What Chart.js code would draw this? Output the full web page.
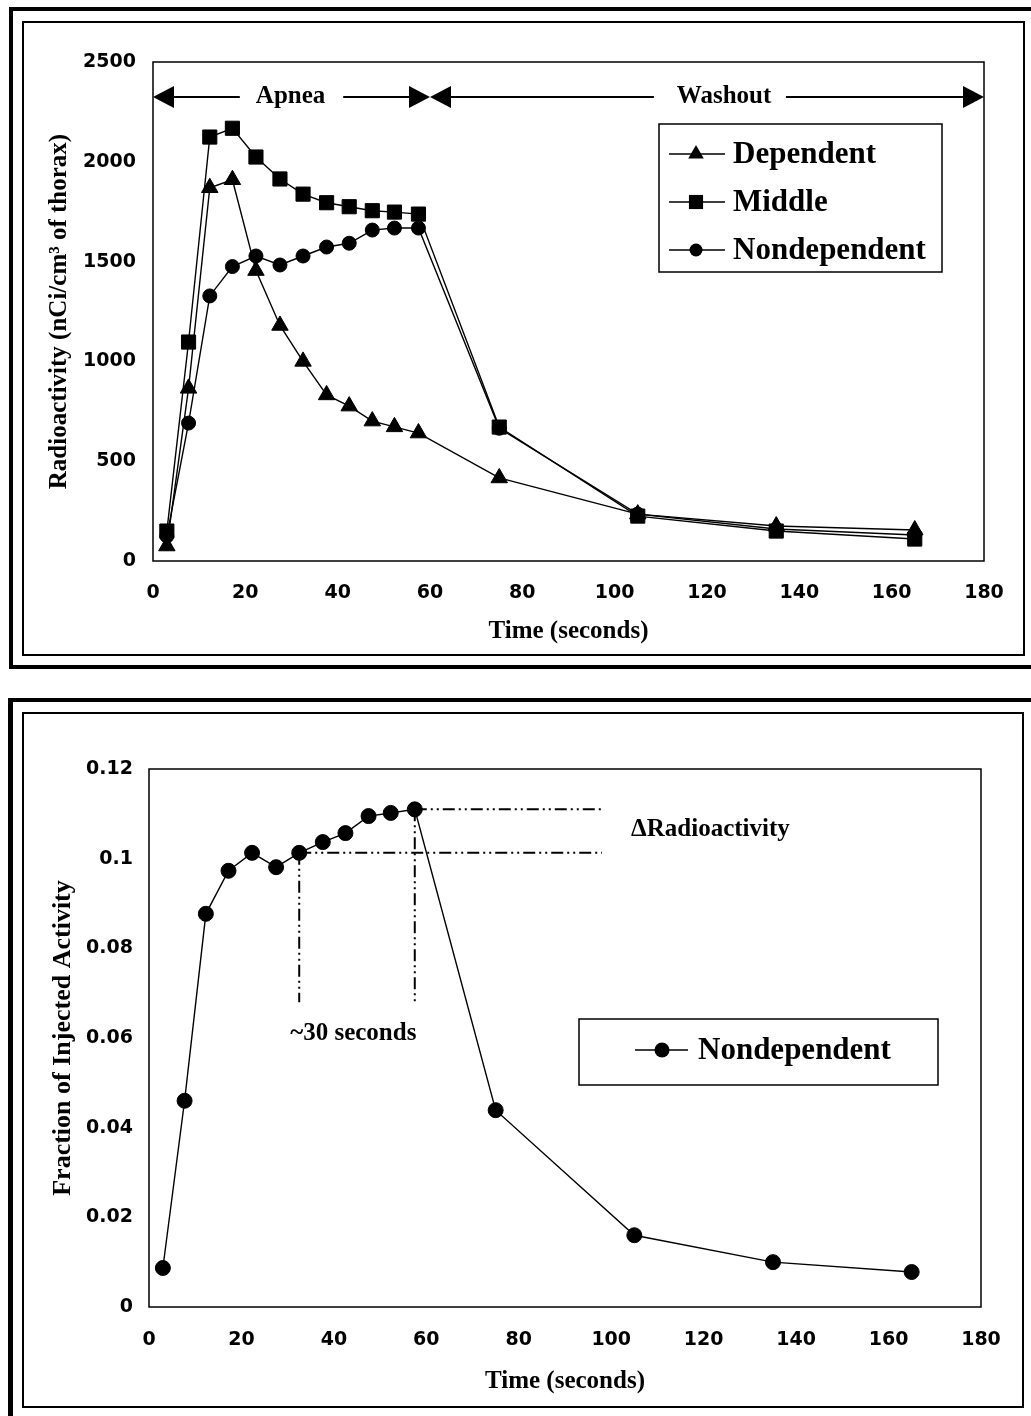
<!DOCTYPE html>
<html><head><meta charset="utf-8">
<script src="https://cdn.jsdelivr.net/npm/chart.js@4.4.1/dist/chart.umd.min.js"></script>
<style>
html,body{margin:0;padding:0;background:#fff;}
body{width:1031px;height:1416px;position:relative;overflow:hidden;}
.f{position:absolute;background:#000;}
.b{position:absolute;border:2px solid #000;box-sizing:border-box;}
canvas{position:absolute;left:0;}
</style></head><body>
<!-- top panel frame -->
<div class="f" style="left:9px;top:7px;width:1022px;height:4px"></div>
<div class="f" style="left:9px;top:7px;width:4px;height:662px"></div>
<div class="f" style="left:9px;top:665px;width:1022px;height:4px"></div>
<div class="b" style="left:22px;top:21px;width:1003px;height:635px"></div>
<!-- bottom panel frame -->
<div class="f" style="left:8px;top:698px;width:1023px;height:4px"></div>
<div class="f" style="left:8px;top:698px;width:5px;height:718px"></div>
<div class="b" style="left:22px;top:712px;width:1002px;height:696px"></div>

<canvas id="c1" width="1031" height="680" style="top:0"></canvas>
<canvas id="c2" width="1031" height="736" style="top:680px"></canvas>
<script>
// ---------- data ----------
const times = [3, 7.7, 12.3, 17.2, 22.3, 27.5, 32.5, 37.6, 42.5, 47.5, 52.3, 57.5, 75, 105, 135, 165];
const dependent = [75, 865, 1870, 1910, 1455, 1180, 1000, 832, 776, 701, 672, 641, 416, 235, 175, 155];
const middle = [150, 1097, 2124, 2168, 2024, 1914, 1838, 1795, 1775, 1755, 1748, 1738, 671, 225, 150, 110];
const nondependent = [125, 691, 1328, 1475, 1528, 1483, 1528, 1573, 1592, 1658, 1668, 1668, 665, 235, 160, 130];
const fractionNondependent = [0.0087, 0.046, 0.0877, 0.0973, 0.1013, 0.0981, 0.1013, 0.1037, 0.1057, 0.1095, 0.1102, 0.111, 0.0439, 0.016, 0.010, 0.0078];

const seriesLabels = ['Dependent', 'Middle', 'Nondependent'];
const topTitleX = 'Time (seconds)';
const topTitleY = 'Radioactivity (nCi/cm\u00B3 of thorax)';
const bottomTitleX = 'Time (seconds)';
const bottomTitleY = 'Fraction of Injected Activity';
const xRange = [0, 180, 20];
const topYRange = [0, 2500, 500];
const bottomYRange = [0, 0.12, 0.02];

// ---------- styling ----------
const SANS = '"DejaVu Sans", sans-serif';
const SERIF = '"Liberation Serif", "Times New Roman", serif';
Chart.defaults.color = '#000';

function pts(xs, ys) { return xs.map((t, i) => ({x: t, y: ys[i]})); }

function drawMarker(ctx, style, x, y, r) {
  ctx.beginPath();
  if (style === 'triangle') {
    ctx.moveTo(x, y - r);
    ctx.lineTo(x + r * 0.866, y + r / 2);
    ctx.lineTo(x - r * 0.866, y + r / 2);
    ctx.closePath();
  } else if (style === 'rect') {
    const s = r * Math.SQRT1_2;
    ctx.rect(x - s, y - s, 2 * s, 2 * s);
  } else {
    ctx.arc(x, y, r, 0, Math.PI * 2);
  }
  ctx.fill();
}

const plotBox = {
  id: 'plotBox',
  beforeDatasetsDraw(chart) {
    const {ctx, chartArea: a} = chart;
    ctx.save();
    ctx.strokeStyle = '#000';
    ctx.lineWidth = 1.5;
    ctx.strokeRect(a.left, a.top, a.right - a.left, a.bottom - a.top);
    ctx.restore();
  }
};

function boxLegend(cfg) {
  return {
    id: 'boxLegend',
    afterDraw(chart) {
      const ctx = chart.ctx;
      ctx.save();
      ctx.strokeStyle = '#000';
      ctx.lineWidth = 1.5;
      ctx.strokeRect(cfg.box[0], cfg.box[1], cfg.box[2], cfg.box[3]);
      chart.data.datasets.forEach((ds, i) => {
        const y = cfg.rows[i];
        ctx.beginPath();
        ctx.lineWidth = 1.5;
        ctx.moveTo(cfg.line[0], y);
        ctx.lineTo(cfg.line[1], y);
        ctx.stroke();
        ctx.fillStyle = '#000';
        drawMarker(ctx, ds.pointStyle, cfg.markerX, y, cfg.markerR[ds.pointStyle]);
        ctx.font = cfg.font;
        ctx.textAlign = 'left';
        ctx.textBaseline = 'middle';
        ctx.fillText(ds.label, cfg.textX, y + 1);
      });
      ctx.restore();
    }
  };
}

function arrowHead(ctx, tipX, y, dir) { // dir: -1 points left, +1 points right
  ctx.beginPath();
  ctx.moveTo(tipX, y);
  ctx.lineTo(tipX - dir * 21, y - 11);
  ctx.lineTo(tipX - dir * 21, y + 11);
  ctx.closePath();
  ctx.fill();
}

// phase arrows: [start, lineEnd, textCenter, lineStart, end] in seconds
const phaseArrowY = 2325;
const phases = [
  {text: 'Apnea', seg: [0, 18.8, 29.8, 41.2, 60]},
  {text: 'Washout', seg: [60, 108.5, 123.7, 137.1, 180]}
];

const topNotes = {
  id: 'topNotes',
  afterDatasetsDraw(chart) {
    const {ctx, scales: {x, y}} = chart;
    const py = y.getPixelForValue(phaseArrowY);
    ctx.save();
    ctx.strokeStyle = '#000';
    ctx.fillStyle = '#000';
    ctx.lineWidth = 2;
    phases.forEach(p => {
      const s = p.seg.map(v => x.getPixelForValue(v));
      ctx.beginPath();
      ctx.moveTo(s[0] + 10, py); ctx.lineTo(s[1], py);
      ctx.moveTo(s[3], py); ctx.lineTo(s[4] - 10, py);
      ctx.stroke();
      arrowHead(ctx, s[0], py, -1);
      arrowHead(ctx, s[4], py, 1);
      ctx.font = 'bold 25px ' + SERIF;
      ctx.textAlign = 'center';
      ctx.textBaseline = 'middle';
      ctx.fillText(p.text, s[2], py);
    });
    ctx.restore();
  }
};

// bottom annotation geometry (seconds / fraction)
const deltaLines = [
  {from: [57.5, 0.111], toX: 98},
  {from: [32.5, 0.1013], toX: 98}
];
const dropLineEnd = 0.068;
const noteThirty = {text: '~30 seconds', x: 44.2, y: 0.0609};
const noteDelta = {text: '\u0394Radioactivity', x: 104.3, y: 0.1066};

const bottomNotes = {
  id: 'bottomNotes',
  afterDatasetsDraw(chart) {
    const {ctx, scales: {x, y}} = chart;
    ctx.save();
    ctx.strokeStyle = '#000';
    ctx.fillStyle = '#000';
    ctx.lineWidth = 2;
    ctx.setLineDash([12, 4, 2, 4, 2, 4]);
    deltaLines.forEach(l => {
      const px = x.getPixelForValue(l.from[0]);
      const py = y.getPixelForValue(l.from[1]);
      ctx.beginPath();
      ctx.moveTo(px, py); ctx.lineTo(x.getPixelForValue(l.toX), py);
      ctx.stroke();
      ctx.beginPath();
      ctx.moveTo(px, py); ctx.lineTo(px, y.getPixelForValue(dropLineEnd));
      ctx.stroke();
    });
    ctx.setLineDash([]);
    ctx.textBaseline = 'middle';
    ctx.font = 'bold 25px ' + SERIF;
    ctx.textAlign = 'center';
    ctx.fillText(noteThirty.text, x.getPixelForValue(noteThirty.x), y.getPixelForValue(noteThirty.y));
    ctx.font = 'bold 25px ' + SERIF;
    ctx.textAlign = 'left';
    ctx.fillText(noteDelta.text, x.getPixelForValue(noteDelta.x), y.getPixelForValue(noteDelta.y));
    ctx.restore();
  }
};

function lineDs(label, xs, ys, style, r) {
  return {
    label, data: pts(xs, ys), pointStyle: style, pointRadius: r, pointHoverRadius: r,
    borderColor: '#000', borderWidth: 1.4, backgroundColor: '#000',
    pointBackgroundColor: '#000', pointBorderColor: '#000', pointBorderWidth: 1,
    tension: 0, fill: false
  };
}

function scaleX(range, pad, titleText, titlePadBottom, height) {
  return {
    type: 'linear', min: range[0], max: range[1],
    ticks: {stepSize: range[2], padding: pad, autoSkip: false, maxRotation: 0,
      font: {family: SANS, weight: 'bold', size: 19, lineHeight: 1.2}, color: '#000',
      callback: v => String(v)},
    grid: {display: false, drawTicks: false}, border: {display: false},
    title: {display: true, text: titleText, color: '#000',
      font: {family: SERIF, weight: 'bold', size: 25, lineHeight: 1.2},
      padding: {top: 0, bottom: titlePadBottom}},
    afterFit: s => { s.height = height; }
  };
}
function scaleY(range, pad, titleText, titleSize, titlePadTop, width, fmt) {
  return {
    type: 'linear', min: range[0], max: range[1],
    ticks: {stepSize: range[2], padding: pad, autoSkip: false,
      font: {family: SANS, weight: 'bold', size: 19, lineHeight: 1.2}, color: '#000',
      callback: fmt},
    grid: {display: false, drawTicks: false}, border: {display: false},
    title: {display: true, text: titleText, color: '#000',
      font: {family: SERIF, weight: 'bold', size: titleSize, lineHeight: 1.2},
      padding: {top: titlePadTop, bottom: 0}},
    afterFit: s => { s.width = width; }
  };
}

const common = {
  responsive: false, animation: false, devicePixelRatio: 1,
  events: [],
};

new Chart(document.getElementById('c1'), {
  type: 'line',
  data: {datasets: [
    lineDs(seriesLabels[0], times, dependent, 'triangle', 9.5),
    lineDs(seriesLabels[1], times, middle, 'rect', 10),
    lineDs(seriesLabels[2], times, nondependent, 'circle', 7)
  ]},
  options: Object.assign({}, common, {
    layout: {padding: {top: 62, right: 47, bottom: 0, left: 0}},
    plugins: {legend: {display: false}, tooltip: {enabled: false}},
    scales: {
      x: scaleX(xRange, 21, topTitleX, 33, 119),
      y: scaleY(topYRange, 17, topTitleY, 25, 45, 153, v => String(v))
    }
  }),
  plugins: [plotBox, topNotes, boxLegend({
    box: [659, 124, 283, 148], line: [669, 725], markerX: 696, textX: 733,
    rows: [154, 202, 250], font: 'bold 31px ' + SERIF,
    markerR: {triangle: 9, rect: 10, circle: 6.5}
  })]
});

new Chart(document.getElementById('c2'), {
  type: 'line',
  data: {datasets: [
    lineDs(seriesLabels[2], times, fractionNondependent, 'circle', 7.5)
  ]},
  options: Object.assign({}, common, {
    layout: {padding: {top: 89, right: 50, bottom: 0, left: 0}},
    plugins: {legend: {display: false}, tooltip: {enabled: false}},
    scales: {
      x: scaleX(xRange, 22, bottomTitleX, 19, 109),
      y: scaleY(bottomYRange, 16, bottomTitleY, 26, 48, 149, v => String(parseFloat(Number(v).toFixed(3))))
    }
  }),
  plugins: [plotBox, bottomNotes, boxLegend({
    box: [579, 339, 359, 66], line: [635, 688], markerX: 662, textX: 698,
    rows: [370], font: 'bold 31px ' + SERIF,
    markerR: {circle: 7.5}
  })]
});
</script>
</body></html>
